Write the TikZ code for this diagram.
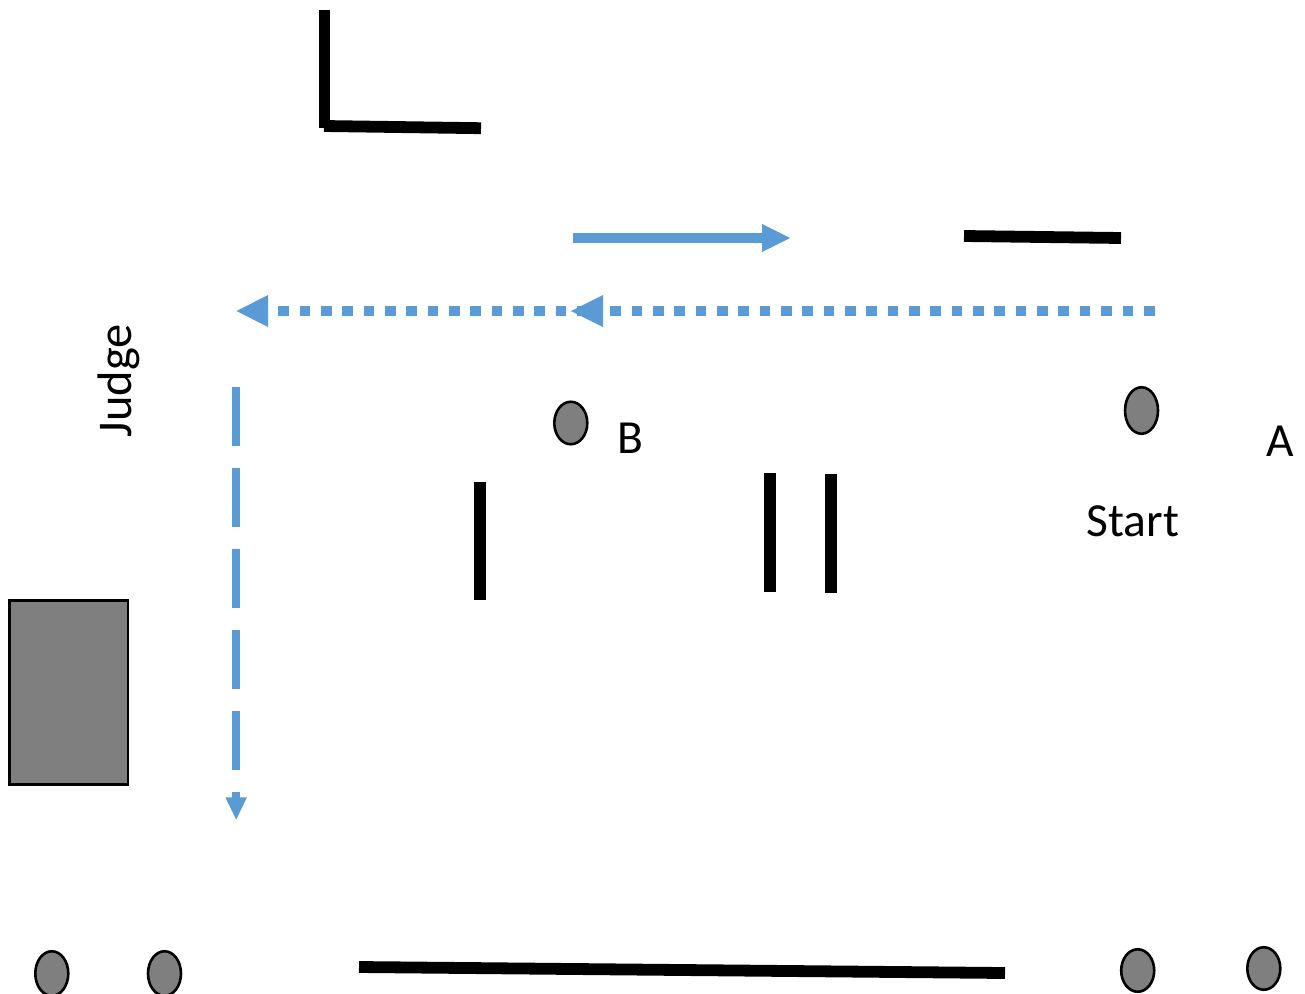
\documentclass[tikz,border=0pt]{standalone}
\usepackage{fontspec}
\usetikzlibrary{shapes.geometric}
\setmainfont{Carlito}
\definecolor{arrowblue}{HTML}{5B9BD5}
\definecolor{fillgray}{HTML}{7F7F7F}
\begin{document}
\begin{tikzpicture}[x=1bp,y=-1bp,
  wall/.style={line width=11.8bp,black},
  cone/.style={draw=black,line width=2.6bp,fill=fillgray,ellipse,minimum width=33bp,minimum height=42.5bp,inner sep=0pt},
  lab/.style={font=\fontsize{47.5bp}{50bp}\selectfont,inner sep=0pt,text=black},
  flow/.style={arrowblue,line width=9.5bp},
  head/.style={fill=arrowblue,draw=none}]
\useasboundingbox (0,0) rectangle (1305,993);
% walls
\coordinate (w1a) at (324.5,9.5); \coordinate (w1b) at (324.5,127.7);
\coordinate (w2a) at (324,126); \coordinate (w2b) at (481,128.2);
\coordinate (w3a) at (964,236); \coordinate (w3b) at (1121,238);
\coordinate (w4a) at (480.2,482); \coordinate (w4b) at (480.2,600.3);
\coordinate (w5a) at (770.3,473.3); \coordinate (w5b) at (770.3,592);
\coordinate (w6a) at (831.2,474); \coordinate (w6b) at (831.2,592.5);
\coordinate (w7a) at (359,967); \coordinate (w7b) at (1005,973);
\draw[wall] (w1a)--(w1b);
\draw[wall] (w2a)--(w2b);
\draw[wall] (w3a)--(w3b);
\draw[wall] (w4a)--(w4b);
\draw[wall] (w5a)--(w5b);
\draw[wall] (w6a)--(w6b);
\draw[wall] (w7a)--(w7b);
% arrows
\coordinate (s1) at (573.3,238); \coordinate (e1) at (762,238);
\draw[flow] (s1)--(e1);
\fill[head] (790,238)--(762,224)--(762,252)--cycle;
\coordinate (s2) at (1154.5,311); \coordinate (e2) at (603,311);
\draw[flow,line width=10.7bp,dash pattern=on 10.67bp off 10.67bp] (s2)--(e2);
\fill[head] (571,311)--(603,295)--(603,327)--cycle;
\coordinate (s3) at (587.6,311); \coordinate (e3) at (268,311);
\draw[flow,line width=10.7bp,dash pattern=on 10.67bp off 10.67bp] (s3)--(e3);
\fill[head] (236.5,311)--(268,295)--(268,327)--cycle;
\coordinate (s4) at (236.2,387); \coordinate (e4) at (236.2,798);
\draw[flow,line width=7.7bp,dash pattern=on 58.7bp off 22.3bp] (s4)--(e4);
\fill[head] (236.2,819.5)--(225.3,797.3)--(247,797.3)--cycle;
% table
\node[draw=black,line width=2.6bp,fill=fillgray,minimum width=118.5bp,minimum height=184bp,inner sep=0pt] (table) at (68.6,692.2) {};
% cones
\node[cone] (c1) at (570.8,423) {};
\node[cone,minimum height=46.5bp] (c2) at (1141.5,410.5) {};
\node[cone,minimum height=44.5bp] (c3) at (51.8,973.5) {};
\node[cone,minimum height=44.5bp] (c4) at (164.5,973.5) {};
\node[cone] (c5) at (1137.7,970.5) {};
\node[cone] (c6) at (1263.8,968.5) {};
% labels
\node[lab] (b) at (630.5,438) {B};
\node[lab] (a) at (1280,441) {A};
\node[lab] (start) at (1133,521.5) {Start};
\node[lab,rotate=90,font=\fontsize{48.5bp}{52bp}\selectfont] (judge) at (118.5,380.7) {Judge};
\end{tikzpicture}
\end{document}
